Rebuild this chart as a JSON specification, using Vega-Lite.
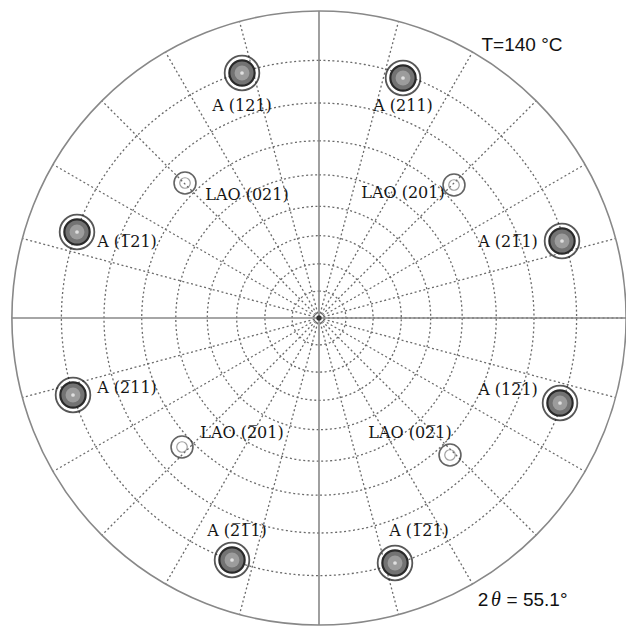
{
  "$schema": "https://vega.github.io/schema/vega-lite/v6.json",
  "width": 614,
  "height": 614,
  "autosize": "none",
  "padding": {"left": 12, "top": 11, "right": 0, "bottom": 1},
  "background": "white",
  "config": {"view": {"stroke": null}},
  "datasets": {
    "rings": [
      {"psi": 10, "r": 26.9},
      {"psi": 20, "r": 54.1},
      {"psi": 30, "r": 82.3},
      {"psi": 40, "r": 111.7},
      {"psi": 50, "r": 143.2},
      {"psi": 60, "r": 177.2},
      {"psi": 70, "r": 215.0},
      {"psi": 80, "r": 257.6}
    ],
    "spokes": [
      {"phi": 0, "x": 0, "y": 0, "x2": 307, "y2": 0},
      {"phi": 15, "x": 0, "y": 0, "x2": 296.5, "y2": 79.5},
      {"phi": 30, "x": 0, "y": 0, "x2": 265.9, "y2": 153.5},
      {"phi": 45, "x": 0, "y": 0, "x2": 217.1, "y2": 217.1},
      {"phi": 60, "x": 0, "y": 0, "x2": 153.5, "y2": 265.9},
      {"phi": 75, "x": 0, "y": 0, "x2": 79.5, "y2": 296.5},
      {"phi": 105, "x": 0, "y": 0, "x2": -79.5, "y2": 296.5},
      {"phi": 120, "x": 0, "y": 0, "x2": -153.5, "y2": 265.9},
      {"phi": 135, "x": 0, "y": 0, "x2": -217.1, "y2": 217.1},
      {"phi": 150, "x": 0, "y": 0, "x2": -265.9, "y2": 153.5},
      {"phi": 165, "x": 0, "y": 0, "x2": -296.5, "y2": 79.5},
      {"phi": 195, "x": 0, "y": 0, "x2": -296.5, "y2": -79.5},
      {"phi": 210, "x": 0, "y": 0, "x2": -265.9, "y2": -153.5},
      {"phi": 225, "x": 0, "y": 0, "x2": -217.1, "y2": -217.1},
      {"phi": 240, "x": 0, "y": 0, "x2": -153.5, "y2": -265.9},
      {"phi": 255, "x": 0, "y": 0, "x2": -79.5, "y2": -296.5},
      {"phi": 285, "x": 0, "y": 0, "x2": 79.5, "y2": -296.5},
      {"phi": 300, "x": 0, "y": 0, "x2": 153.5, "y2": -265.9},
      {"phi": 315, "x": 0, "y": 0, "x2": 217.1, "y2": -217.1},
      {"phi": 330, "x": 0, "y": 0, "x2": 265.9, "y2": -153.5},
      {"phi": 345, "x": 0, "y": 0, "x2": 296.5, "y2": -79.5}
    ],
    "axes": [
      {"x": -307, "y": 0, "x2": 307, "y2": 0},
      {"x": 0, "y": -307, "x2": 0, "y2": 307}
    ],
    "spots": [
      {"kind": "A", "label": "A (121)", "x": -77, "y": 245, "lx": -77, "ly": 212},
      {"kind": "A", "label": "A (211)", "x": 84, "y": 240, "lx": 84, "ly": 212},
      {"kind": "A", "label": "A (1\u030521)", "x": -242, "y": 86, "lx": -192, "ly": 76},
      {"kind": "A", "label": "A (2\u030511)", "x": -246, "y": -77, "lx": -192, "ly": -70},
      {"kind": "A", "label": "A (21\u03051)", "x": 243, "y": 77, "lx": 189, "ly": 76},
      {"kind": "A", "label": "A (12\u03051)", "x": 241, "y": -85, "lx": 189, "ly": -72},
      {"kind": "A", "label": "A (2\u03051\u03051)", "x": -87, "y": -242, "lx": -82, "ly": -213},
      {"kind": "A", "label": "A (1\u03052\u03051)", "x": 76, "y": -245, "lx": 100, "ly": -213},
      {"kind": "LAO", "label": "LAO (021)", "x": -134, "y": 135, "lx": -72, "ly": 123},
      {"kind": "LAO", "label": "LAO (201)", "x": 135, "y": 133, "lx": 84, "ly": 125},
      {"kind": "LAO", "label": "LAO (2\u030501)", "x": -137, "y": -129, "lx": -77, "ly": -115},
      {"kind": "LAO", "label": "LAO (02\u03051)", "x": 131, "y": -137, "lx": 91, "ly": -115}
    ],
    "notes": [
      {"text": "T=140 \u00b0C", "x": 203, "y": 273, "style": "normal"},
      {"text": "2", "x": 164, "y": -282, "style": "normal"},
      {"text": "\u03b8", "x": 177, "y": -282, "style": "italic"},
      {"text": "= 55.1\u00b0", "x": 218, "y": -282, "style": "normal"}
    ]
  },
  "layer": [
    {
      "data": {"name": "rings"},
      "mark": {"type": "arc", "filled": false, "stroke": "#6a6a6a", "strokeWidth": 1.3, "strokeDash": [2, 2.5]},
      "encoding": {
        "radius": {"field": "r", "type": "quantitative", "scale": null, "stack": null},
        "theta": {"value": 0},
        "theta2": {"value": 6.2832}
      }
    },
    {
      "data": {"name": "spokes"},
      "mark": {"type": "rule", "stroke": "#6a6a6a", "strokeWidth": 1.3, "strokeDash": [2, 2.5]},
      "encoding": {
        "x": {"field": "x", "type": "quantitative", "scale": {"domain": [-307, 307], "nice": false, "zero": false}, "axis": null},
        "y": {"field": "y", "type": "quantitative", "scale": {"domain": [-307, 307], "nice": false, "zero": false}, "axis": null},
        "x2": {"field": "x2"},
        "y2": {"field": "y2"}
      }
    },
    {
      "data": {"name": "axes"},
      "mark": {"type": "rule", "stroke": "#888", "strokeWidth": 1.6},
      "encoding": {
        "x": {"field": "x", "type": "quantitative"},
        "y": {"field": "y", "type": "quantitative"},
        "x2": {"field": "x2"},
        "y2": {"field": "y2"}
      }
    },
    {
      "data": {"values": [{"r": 307}]},
      "mark": {"type": "arc", "filled": false, "stroke": "#888", "strokeWidth": 1.6},
      "encoding": {
        "radius": {"field": "r", "type": "quantitative", "scale": null, "stack": null},
        "theta": {"value": 0},
        "theta2": {"value": 6.2832}
      }
    },
    {
      "data": {"values": [{"x": 0, "y": 0}]},
      "mark": {"type": "point", "filled": true, "fill": "#111", "size": 30, "shape": "circle"},
      "encoding": {
        "x": {"field": "x", "type": "quantitative"},
        "y": {"field": "y", "type": "quantitative"}
      }
    },
    {
      "data": {"name": "spots"},
      "transform": [{"filter": "datum.kind === 'A'"}],
      "layer": [
        {
          "mark": {"type": "point", "shape": "circle", "filled": false, "size": 1200, "stroke": "#111", "strokeWidth": 1.8},
          "encoding": {
            "x": {"field": "x", "type": "quantitative"},
            "y": {"field": "y", "type": "quantitative"}
          }
        },
        {
          "mark": {"type": "point", "shape": "circle", "filled": true, "size": 640, "fill": "#737373", "stroke": "#2a2a2a", "strokeWidth": 2.2, "opacity": 1},
          "encoding": {
            "x": {"field": "x", "type": "quantitative"},
            "y": {"field": "y", "type": "quantitative"}
          }
        },
        {
          "mark": {"type": "point", "shape": "circle", "filled": true, "size": 220, "fill": "#9c9c9c", "opacity": 1},
          "encoding": {
            "x": {"field": "x", "type": "quantitative"},
            "y": {"field": "y", "type": "quantitative"}
          }
        },
        {
          "mark": {"type": "point", "shape": "circle", "filled": true, "size": 14, "fill": "#e0e0e0", "opacity": 1},
          "encoding": {
            "x": {"field": "x", "type": "quantitative"},
            "y": {"field": "y", "type": "quantitative"}
          }
        }
      ]
    },
    {
      "data": {"name": "spots"},
      "transform": [{"filter": "datum.kind === 'LAO'"}],
      "layer": [
        {
          "mark": {"type": "point", "shape": "circle", "filled": false, "size": 480, "stroke": "#222", "strokeWidth": 1.6},
          "encoding": {
            "x": {"field": "x", "type": "quantitative"},
            "y": {"field": "y", "type": "quantitative"}
          }
        },
        {
          "mark": {"type": "point", "shape": "circle", "filled": false, "size": 110, "stroke": "#777", "strokeWidth": 1.2},
          "encoding": {
            "x": {"field": "x", "type": "quantitative"},
            "y": {"field": "y", "type": "quantitative"}
          }
        }
      ]
    },
    {
      "data": {"name": "spots"},
      "mark": {"type": "text", "font": "DejaVu Serif", "fontSize": 16, "fill": "#151515", "align": "center", "baseline": "middle"},
      "encoding": {
        "x": {"field": "lx", "type": "quantitative"},
        "y": {"field": "ly", "type": "quantitative"},
        "text": {"field": "label"}
      }
    },
    {
      "data": {"name": "notes"},
      "transform": [{"filter": "datum.style === 'normal'"}],
      "mark": {"type": "text", "font": "Liberation Sans", "fontSize": 19, "fill": "#111", "align": "center", "baseline": "middle"},
      "encoding": {
        "x": {"field": "x", "type": "quantitative"},
        "y": {"field": "y", "type": "quantitative"},
        "text": {"field": "text"}
      }
    },
    {
      "data": {"name": "notes"},
      "transform": [{"filter": "datum.style === 'italic'"}],
      "mark": {"type": "text", "font": "Liberation Serif", "fontStyle": "italic", "fontSize": 20, "fill": "#111", "align": "center", "baseline": "middle"},
      "encoding": {
        "x": {"field": "x", "type": "quantitative"},
        "y": {"field": "y", "type": "quantitative"},
        "text": {"field": "text"}
      }
    }
  ]
}
